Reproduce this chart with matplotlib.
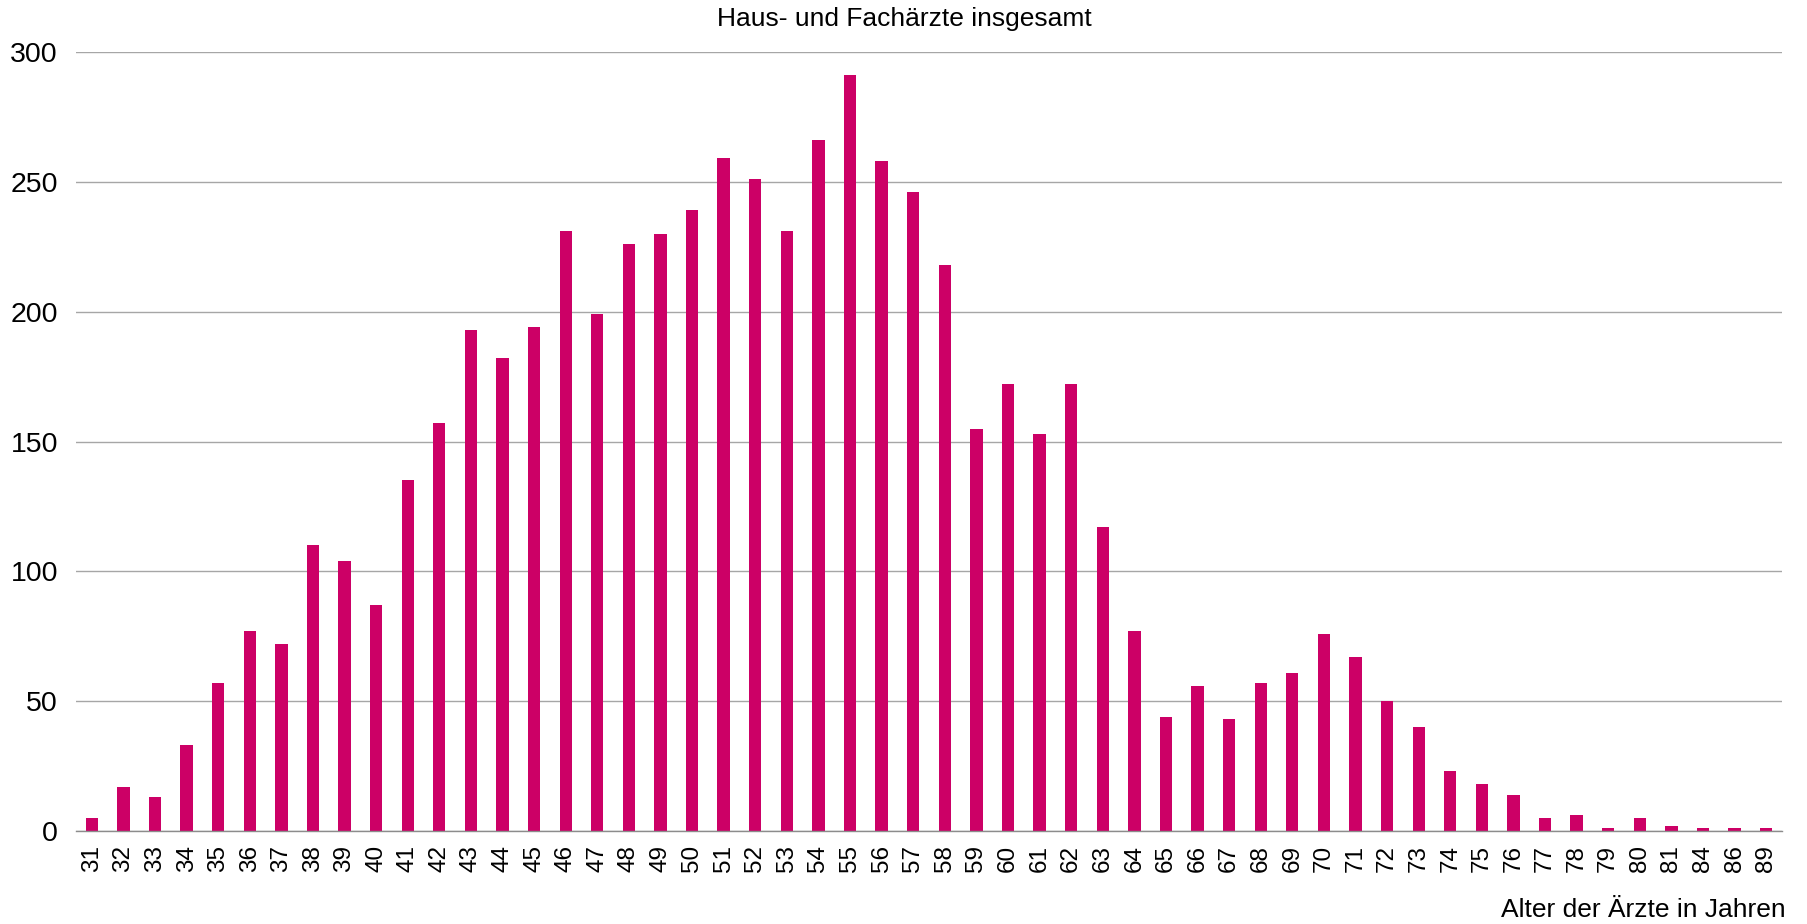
import matplotlib.pyplot as plt

# Altersverteilung Haus- und Fachaerzte
ages = ['31', '32', '33', '34', '35', '36', '37', '38', '39', '40',
        '41', '42', '43', '44', '45', '46', '47', '48', '49', '50',
        '51', '52', '53', '54', '55', '56', '57', '58', '59', '60',
        '61', '62', '63', '64', '65', '66', '67', '68', '69', '70',
        '71', '72', '73', '74', '75', '76', '77', '78', '79', '80',
        '81', '84', '86', '89']
counts = [5, 17, 13, 33, 57, 77, 72, 110, 104, 87,
          135, 157, 193, 182, 194, 231, 199, 226, 230, 239,
          259, 251, 231, 266, 291, 258, 246, 218, 155, 172,
          153, 172, 117, 77, 44, 56, 43, 57, 61, 76,
          67, 50, 40, 23, 18, 14, 5, 6, 1, 5,
          2, 1, 1, 1]
yticks = [0, 50, 100, 150, 200, 250, 300]

BAR_COLOR = '#CC0066'
GRID_COLOR = '#A6A6A6'

plt.rcParams['font.family'] = ['Liberation Sans', 'DejaVu Sans']

fig = plt.figure(figsize=(18.08, 9.24), dpi=100)
ax = fig.add_axes([76 / 1808, 1 - 831 / 924, (1782 - 76) / 1808, (831 - 52) / 924])

pos = list(range(len(ages)))
ax.bar(pos, counts, width=0.39, color=BAR_COLOR, zorder=3)

ax.set_xlim(-0.5, len(ages) - 0.5)
ax.set_ylim(0, 300)
ax.set_yticks(yticks)
ax.set_xticks(pos)
ax.set_xticklabels(ages, rotation=90)

ax.yaxis.grid(True, color=GRID_COLOR, linewidth=1.0, zorder=0)
ax.set_axisbelow(True)
for s in ['top', 'right', 'left']:
    ax.spines[s].set_visible(False)
ax.spines['bottom'].set_color('#8C8C8C')
ax.spines['bottom'].set_linewidth(1.0)
ax.spines['bottom'].set_zorder(4)

ax.tick_params(axis='x', length=0, pad=10, labelsize=17.5, labelcolor='#000000')
ax.tick_params(axis='y', length=0, pad=13, labelsize=20.5, labelcolor='#000000')

fig.text(0.5, 1 - 19 / 924, 'Haus- und Fachärzte insgesamt', ha='center', va='center', fontsize=19)
fig.text(1786 / 1808, 1 - 910 / 924, 'Alter der Ärzte in Jahren', ha='right', va='center', fontsize=19)

fig.savefig('out.png', dpi=100)
